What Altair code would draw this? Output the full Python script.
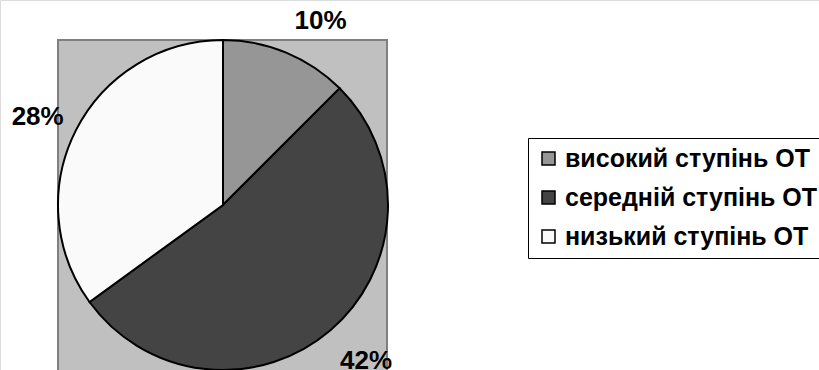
import altair as alt
import pandas as pd

categories = ["високий ступінь ОТ", "середній ступінь ОТ", "низький ступінь ОТ"]
values = [10, 42, 28]
labels = ["10%", "42%", "28%"]
order = [1, 2, 3]
colors = ["#969696", "#444444", "#fafafa"]
label_dx = [18, 8, 0]
label_dy = [8, -2, 6]

df = pd.DataFrame({"cat": categories, "value": values, "label": labels, "ord": order})
total = float(sum(values))

W, H = 819, 370
CX, CY = 223, 205

bg = alt.Chart(pd.DataFrame({"a": [0]})).mark_rect(
    color="#c0c0c0", stroke="#808080", strokeWidth=2
).encode(
    x=alt.value(58), x2=alt.value(387), y=alt.value(40), y2=alt.value(400)
)

pie = alt.Chart(df).mark_arc(outerRadius=165, stroke="black", strokeWidth=2).encode(
    theta=alt.Theta("value:Q", stack=True, scale=alt.Scale(domain=[0, total])),
    order=alt.Order("ord:Q"),
    x=alt.value(CX), y=alt.value(CY),
    color=alt.Color(
        "cat:N",
        scale=alt.Scale(domain=categories, range=colors),
        sort=categories,
        legend=alt.Legend(
            title=None, orient="none", legendX=528, legendY=138,
            symbolType="square", symbolSize=169, symbolStrokeColor="black",
            symbolStrokeWidth=1.5, symbolOpacity=1,
            labelFont="Liberation Sans", labelFontWeight="bold", labelFontSize=25,
            labelColor="black", labelOffset=4, rowPadding=13, padding=8,
            strokeColor="black", labelLimit=400,
        ),
    ),
)

text_base = alt.Chart(df).transform_window(
    cum="sum(value)", sort=[alt.SortField("ord")], frame=[None, 0]
).transform_calculate(mid="datum.cum - datum.value / 2")

texts = []
for lab, ddx, ddy in zip(labels, label_dx, label_dy):
    texts.append(
        text_base.transform_filter(alt.datum.label == lab).mark_text(
            radius=208, font="Liberation Sans", fontWeight="bold", fontSize=26,
            color="black", dx=ddx, dy=ddy,
        ).encode(
            theta=alt.Theta("mid:Q", stack=None, scale=alt.Scale(domain=[0, total])),
            x=alt.value(CX), y=alt.value(CY), text="label:N",
        )
    )

chart = alt.layer(bg, pie, *texts).properties(
    width=W, height=H, padding=0, autosize=alt.AutoSizeParams(type="none")
).configure_view(stroke=None).configure(background="white")

chart.save("out.html", embed_options={"renderer": "svg", "actions": False})
